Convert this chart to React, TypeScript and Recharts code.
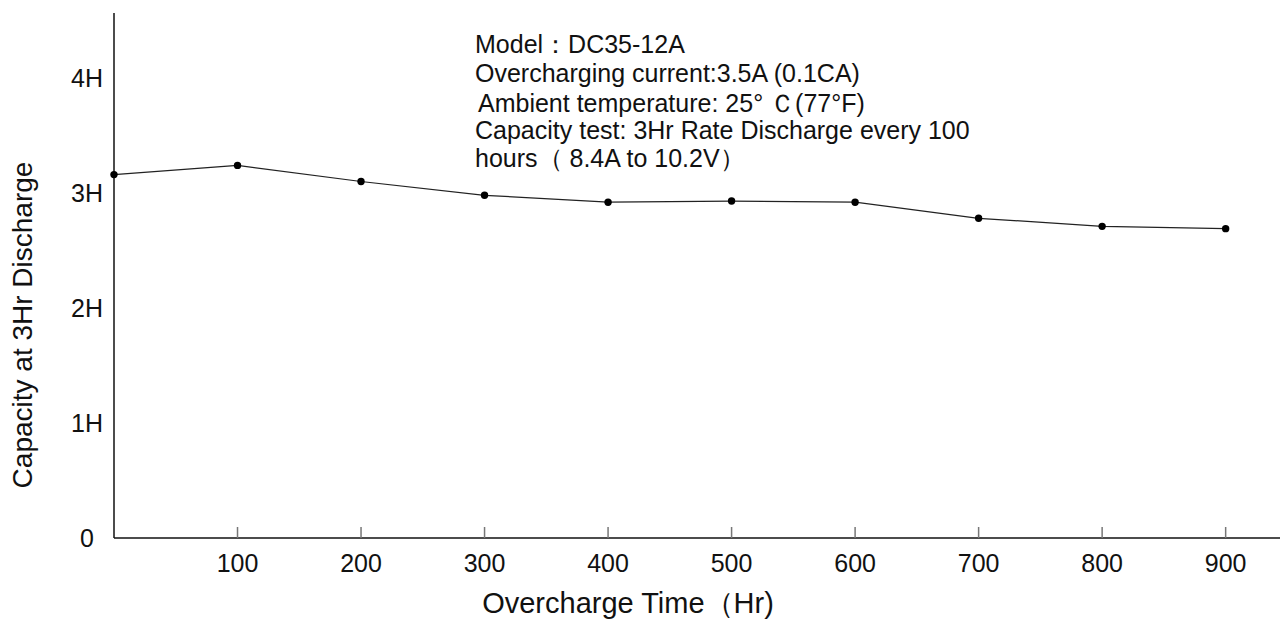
import React from 'react';
import { LineChart, Line, XAxis, YAxis } from 'recharts';

const hours = [0, 100, 200, 300, 400, 500, 600, 700, 800, 900];
const capacity = [3.16, 3.24, 3.1, 2.98, 2.92, 2.93, 2.92, 2.78, 2.71, 2.69];
const xTicks = [100, 200, 300, 400, 500, 600, 700, 800, 900];
const yTicks = [0, 1, 2, 3, 4];
const yTickLabels = ['0', '1H', '2H', '3H', '4H'];
const notes = [
  'Model：DC35-12A',
  'Overcharging current:3.5A (0.1CA)',
  'Ambient temperature: 25° Ｃ(77°F)',
  'Capacity test: 3Hr Rate Discharge every 100',
  'hours（ 8.4A to 10.2V）',
];

const W = 1280;
const H = 623;
const AXIS_Y = 538;
const FONT = '"Liberation Sans", Arial, sans-serif';

const data = hours.map((h, i) => ({ hour: h, cap: capacity[i] }));

const XTick = (props: any) => {
  const { x, payload } = props;
  return (
    <g>
      <line x1={x} x2={x} y1={AXIS_Y} y2={AXIS_Y - 11} stroke="#777" strokeWidth={1.5} />
      <text x={x} y={572} textAnchor="middle" fontSize={25} fill="#111" fontFamily={FONT}>
        {payload.value}
      </text>
    </g>
  );
};

const YTick = (props: any) => {
  const { y, payload } = props;
  const idx = yTicks.indexOf(payload.value);
  return (
    <text x={87} y={y} dy={9} textAnchor="middle" fontSize={25} fill="#111" fontFamily={FONT}>
      {yTickLabels[idx]}
    </text>
  );
};

export default function App() {
  return (
    <div style={{ position: 'absolute', left: 0, top: 0, width: W, height: H, background: '#fff' }}>
      <LineChart width={W} height={H} data={data} margin={{ top: 13, right: 0, left: 0, bottom: 0 }}>
        <XAxis
          dataKey="hour"
          type="number"
          domain={[0, 944]}
          ticks={xTicks}
          interval={0}
          height={H - AXIS_Y}
          axisLine={{ stroke: '#111', strokeWidth: 1.5 }}
          tickLine={false}
          tick={<XTick />}
        />
        <YAxis
          type="number"
          domain={[0, 4.565]}
          ticks={yTicks}
          interval={0}
          width={114}
          axisLine={{ stroke: '#111', strokeWidth: 1.5 }}
          tickLine={false}
          tick={<YTick />}
        />
        <Line
          type="linear"
          dataKey="cap"
          stroke="#222"
          strokeWidth={1.2}
          dot={{ r: 3.7, fill: '#000', stroke: '#000', strokeWidth: 0 }}
          activeDot={false}
          isAnimationActive={false}
        />
      </LineChart>
      <svg
        width={W}
        height={H}
        style={{ position: 'absolute', left: 0, top: 0, pointerEvents: 'none' }}
      >
        <g fontFamily={FONT} fontSize={25} fill="#111">
          <text x={475} y={53}>{notes[0]}</text>
          <text x={475} y={82}>{notes[1]}</text>
          <text x={478} y={112}>{notes[2]}</text>
          <text x={475} y={139}>{notes[3]}</text>
          <text x={475} y={167}>{notes[4]}</text>
        </g>
        <text x={628} y={613} textAnchor="middle" fontSize={29} fill="#111" fontFamily={FONT}>
          Overcharge Time（Hr)
        </text>
        <text
          x={32}
          y={325}
          transform="rotate(-90, 32, 325)"
          textAnchor="middle"
          fontSize={28}
          fill="#111"
          fontFamily={FONT}
        >
          Capacity at 3Hr Discharge
        </text>
      </svg>
    </div>
  );
}
